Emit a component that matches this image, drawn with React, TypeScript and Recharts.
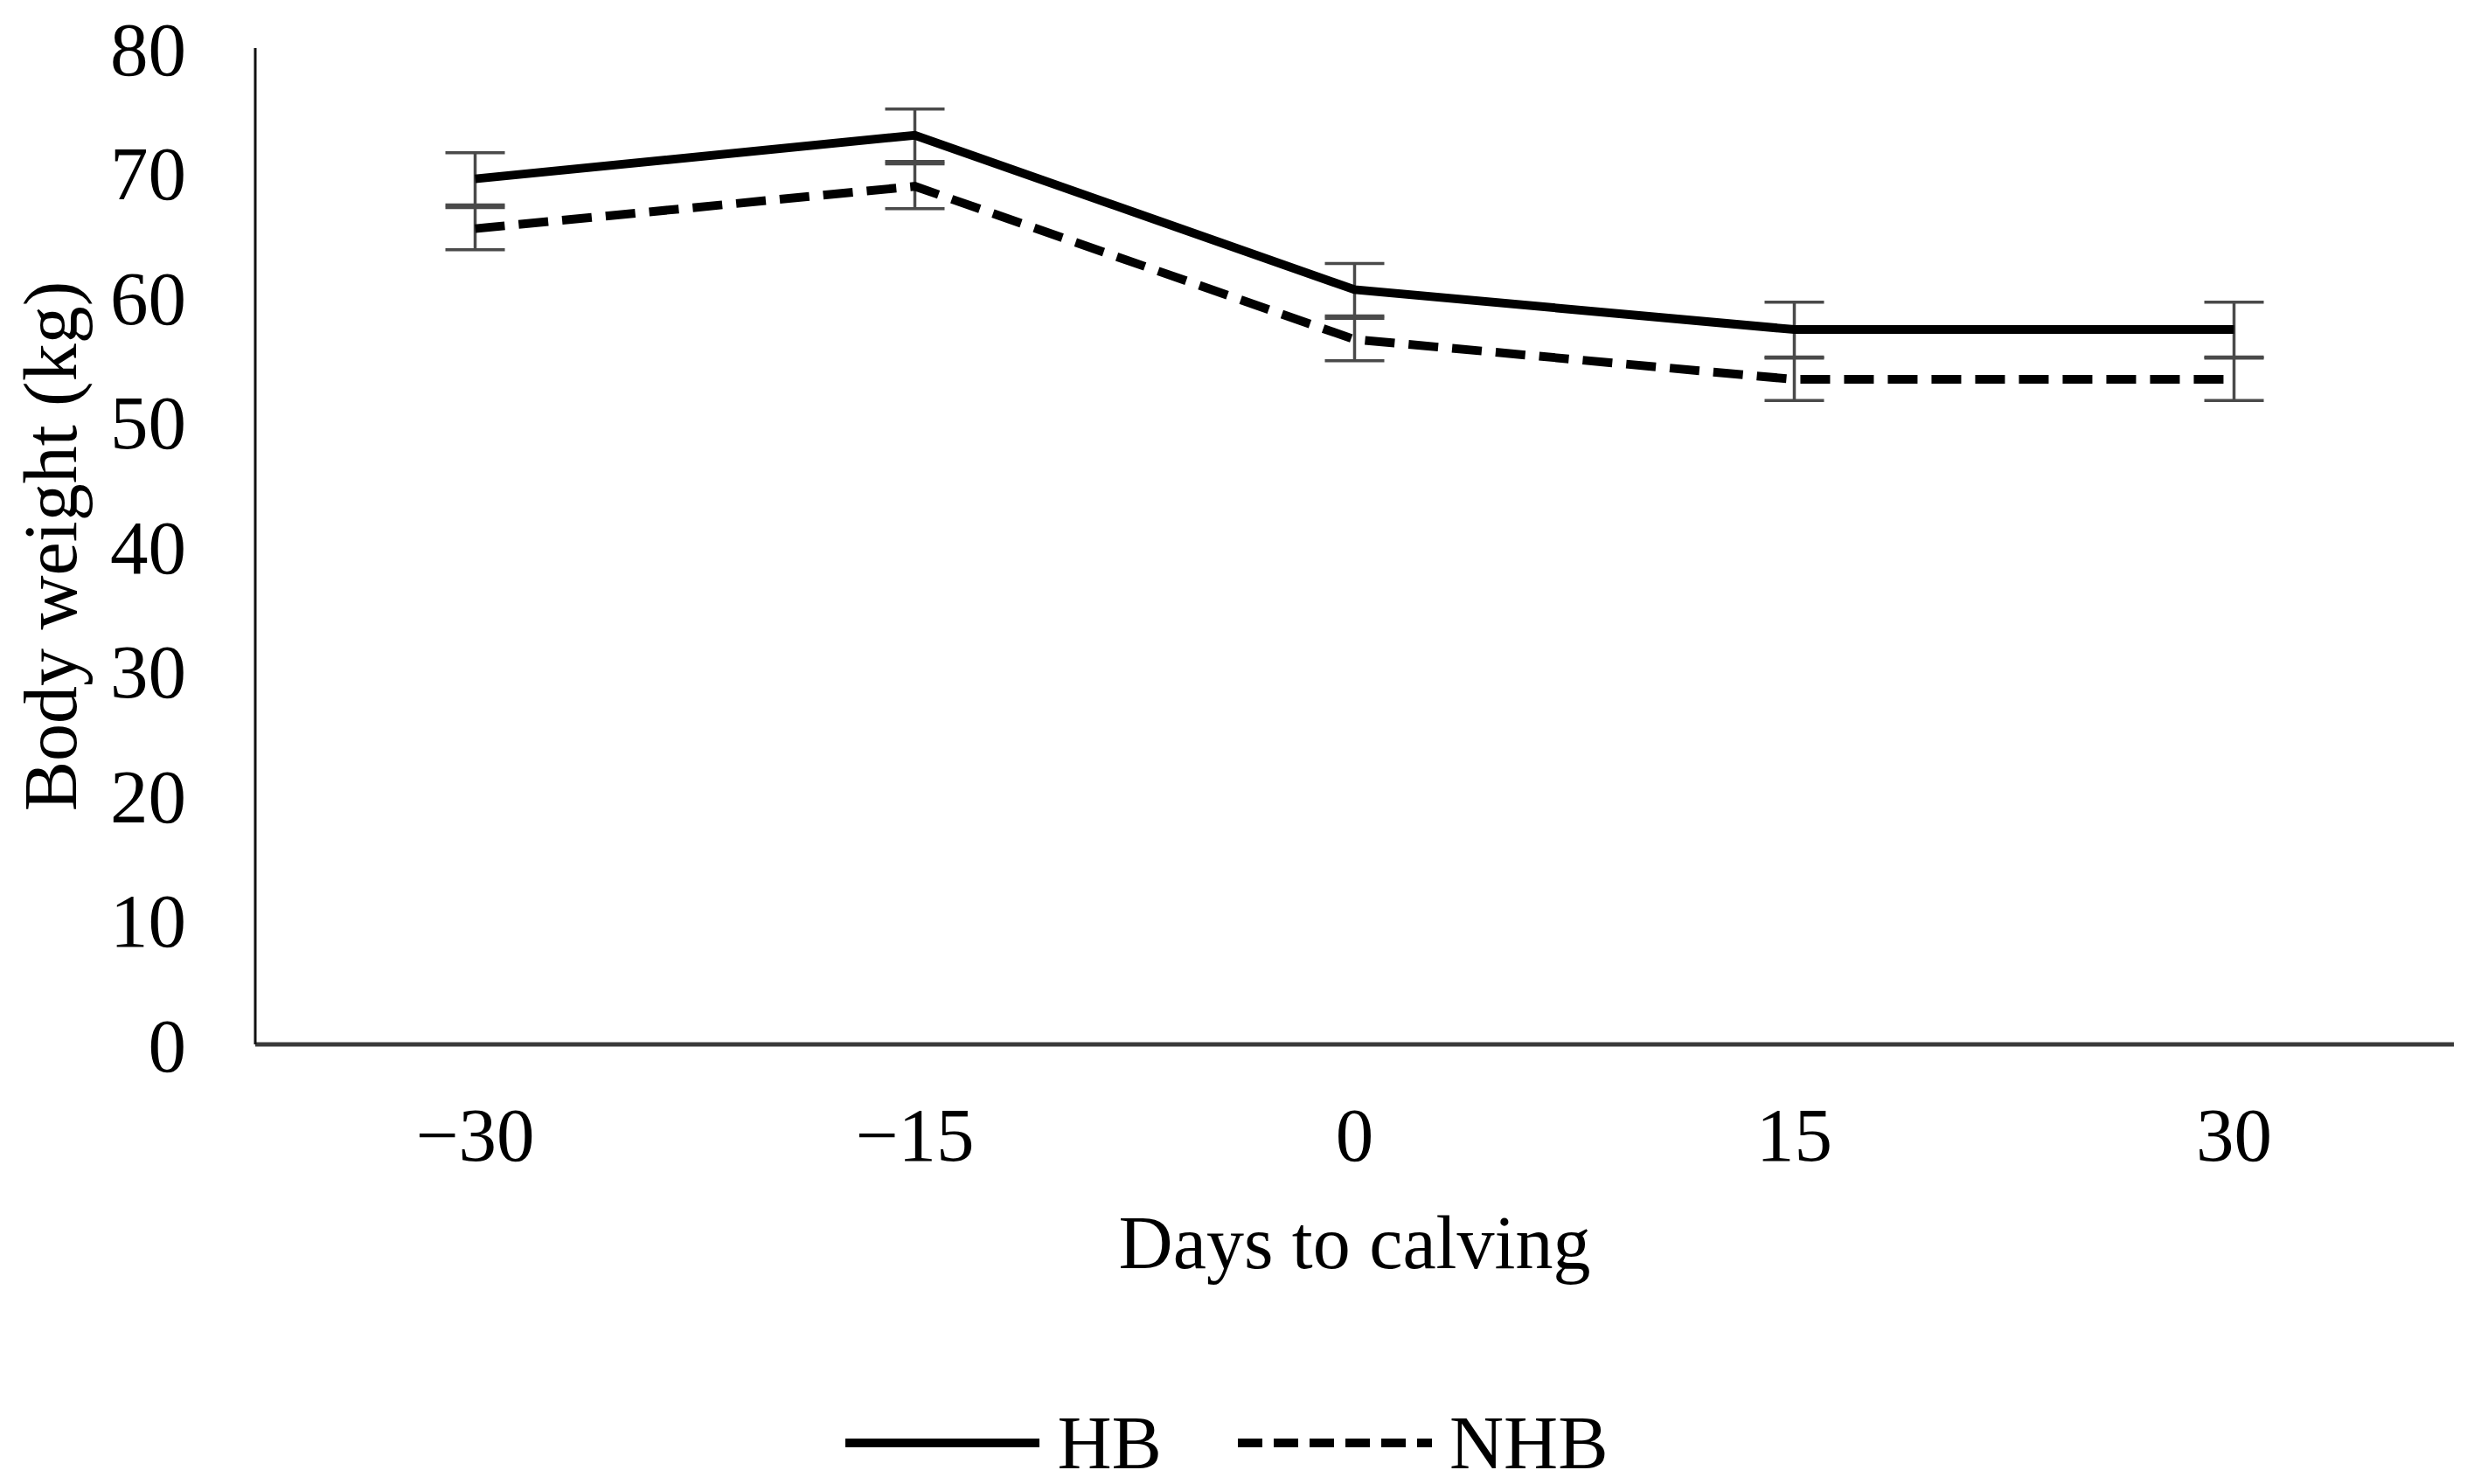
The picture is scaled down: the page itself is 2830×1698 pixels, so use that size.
import React from 'react';
import { LineChart, Line, XAxis, YAxis, ErrorBar, Legend } from 'recharts';

// days relative to calving
const DAYS = ['\u221230', '\u221215', '0', '15', '30'];
// body weight (kg)
const HB = [69.5, 73.0, 60.6, 57.4, 57.4];
const NHB = [65.5, 68.9, 56.6, 53.4, 53.4];
// standard errors
const HB_ERR = [2.1, 2.1, 2.1, 2.2, 2.2];
const NHB_ERR = [1.7, 1.8, 1.7, 1.7, 1.7];
const Y_TICKS = [0, 10, 20, 30, 40, 50, 60, 70, 80];

const FONT = '"Liberation Serif", "Times New Roman", serif';
const DASH = '34 16';

const data = DAYS.map((day, i) => ({
  day,
  HB: HB[i],
  NHB: NHB[i],
  hbErr: HB_ERR[i],
  nhbErr: NHB_ERR[i],
}));

const LegendContent = ({ payload }: any) => (
  <div style={{ display: 'flex', justifyContent: 'center', alignItems: 'center', fontFamily: FONT, fontSize: 86, color: '#000' }}>
    {(payload || []).map((entry: any, i: number) => (
      <div key={entry.value} style={{ display: 'flex', alignItems: 'center', marginLeft: i === 0 ? 0 : 87 }}>
        <svg width={222} height={20} style={{ marginRight: 20 }}>
          <line
            x1={0}
            y1={10}
            x2={222}
            y2={10}
            stroke="#000"
            strokeWidth={10}
            strokeDasharray={entry.value === 'NHB' ? '28 13' : undefined}
          />
        </svg>
        <span style={{ lineHeight: '90px' }}>{entry.value}</span>
      </div>
    ))}
  </div>
);

export default function App() {
  return (
    <div style={{ position: 'absolute', left: 0, top: 0, background: '#fff' }}>
      <LineChart
        width={2830}
        height={1698}
        data={data}
        margin={{ top: 55, right: 23, left: 0, bottom: 12 }}
      >
        <XAxis
          dataKey="day"
          scale="band"
          height={411}
          axisLine={{ stroke: '#3a3a3a', strokeWidth: 5 }}
          tickLine={false}
          tickMargin={65}
          tick={{ fill: '#000', fontSize: 87, fontFamily: FONT }}
          label={{
            value: 'Days to calving',
            position: 'insideTop',
            offset: 195,
            fill: '#000',
            fontSize: 86,
            fontFamily: FONT,
          }}
        />
        <YAxis
          domain={[0, 80]}
          ticks={Y_TICKS}
          width={292}
          axisLine={{ stroke: '#111', strokeWidth: 3 }}
          tickLine={false}
          tickMargin={73}
          tick={{ fill: '#000', fontSize: 87, fontFamily: FONT }}
          label={{
            value: 'Body weight (kg)',
            angle: -90,
            position: 'insideLeft',
            offset: 56,
            textAnchor: 'middle',
            fill: '#000',
            fontSize: 86,
            fontFamily: FONT,
          }}
        />
        <Legend verticalAlign="bottom" align="center" height={80} content={<LegendContent />} />
        <Line
          type="linear"
          dataKey="HB"
          stroke="#000"
          strokeWidth={10}
          dot={false}
          activeDot={false}
          isAnimationActive={false}
        >
          <ErrorBar dataKey="hbErr" width={34} strokeWidth={3.5} stroke="#4a4a4a" direction="y" />
        </Line>
        <Line
          type="linear"
          dataKey="NHB"
          stroke="#000"
          strokeWidth={10}
          strokeDasharray={DASH}
          dot={false}
          activeDot={false}
          isAnimationActive={false}
        >
          <ErrorBar dataKey="nhbErr" width={34} strokeWidth={3.5} stroke="#4a4a4a" direction="y" />
        </Line>
      </LineChart>
    </div>
  );
}
